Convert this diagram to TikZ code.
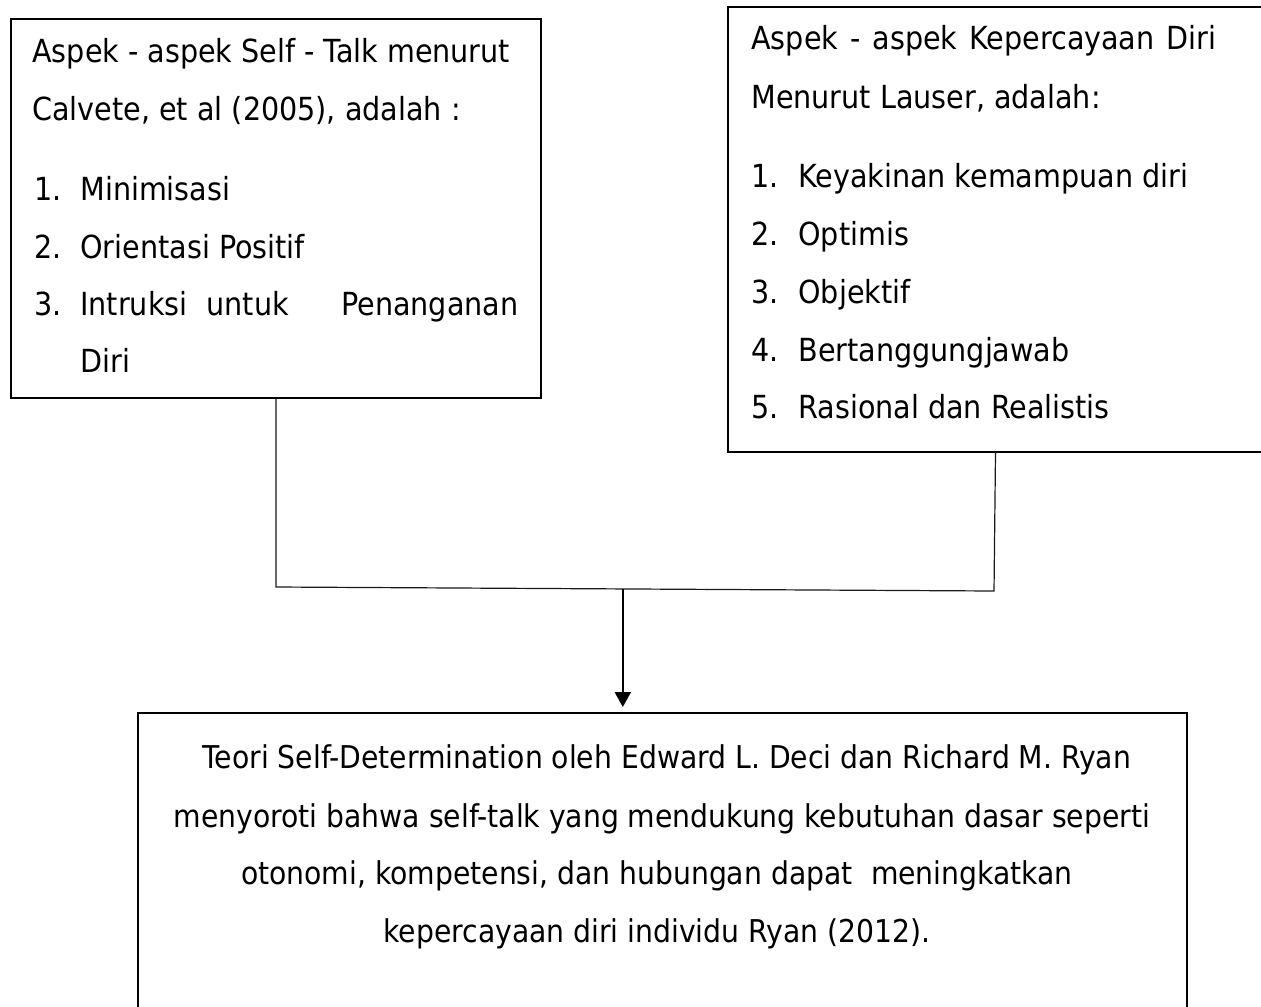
\documentclass[tikz,border=0pt]{standalone}
\usepackage{fontspec}
\setmainfont{DejaVu Sans Condensed}
\usetikzlibrary{arrows.meta,calc}
\begin{document}
\begin{tikzpicture}[x=0.5pt,y=-0.5pt,
  box/.style={draw=black,line width=1.3pt,inner sep=0pt,outer sep=0pt,anchor=north west},
  txt/.style={inner sep=0pt,anchor=base west,font=\fontsize{15.9}{19}\selectfont},
  ctxt/.style={inner sep=0pt,anchor=base,font=\fontsize{15.7}{19}\selectfont},
  conn/.style={draw=black!90,line width=0.6pt},
  arr/.style={draw=black,line width=1pt,-{Triangle[width=8pt,length=7.5pt]}}]
\useasboundingbox (0,0) rectangle (1261,1006);
\clip (0,0) rectangle (1261,1006);
% boxes
\node[box,minimum width=265pt,minimum height=189.5pt] (L) at (11,19) {};
\node[box,minimum width=267.5pt,minimum height=222.5pt] (R) at (728,7) {};
\node[box,minimum width=524.5pt,minimum height=160pt] (B) at (138,713) {};
% left text
\node[txt] (l1) at (32,63) {Aspek - aspek Self - Talk menurut};
\node[txt] (l2) at (32,120) {Calvete, et al (2005), adalah :};
\node[txt] (l3) at (34,200) {\makebox[23pt][l]{1.}Minimisasi};
\node[txt] (l4) at (34,258) {\makebox[23pt][l]{2.}Orientasi Positif};
\node[txt] (l5) at (34,315) {\makebox[23pt][l]{3.}\makebox[219pt][l]{Intruksi\hspace{0.6em}untuk\hfill Penanganan}};
\node[txt] (l6) at (80,372) {Diri};
% right text
\node[txt] (r1) at (751,50) {\makebox[232.5pt][s]{Aspek - aspek Kepercayaan Diri}};
\node[txt] (r2) at (751,108) {Menurut Lauser, adalah:};
\node[txt] (r3) at (751,187) {\makebox[23.5pt][l]{1.}Keyakinan kemampuan diri};
\node[txt] (r4) at (751,245) {\makebox[23.5pt][l]{2.}Optimis};
\node[txt] (r5) at (751,303) {\makebox[23.5pt][l]{3.}Objektif};
\node[txt] (r6) at (751,361) {\makebox[23.5pt][l]{4.}Bertanggungjawab};
\node[txt] (r7) at (751,418) {\makebox[23.5pt][l]{5.}Rasional dan Realistis};
% bottom text
\node[ctxt] (b1) at (667,768) {Teori Self-Determination oleh Edward L. Deci dan Richard M. Ryan};
\node[ctxt] (b2) at (662,827) {menyoroti bahwa self-talk yang mendukung kebutuhan dasar seperti};
\node[ctxt] (b3) at (657,884) {otonomi, kompetensi, dan hubungan dapat\hspace{0.3em} meningkatkan};
\node[ctxt] (b4) at (657,942) {kepercayaan diri individu Ryan (2012).};
% connectors
\coordinate (jl) at (276,587);
\coordinate (jr) at (994,591);
\draw[conn] (L.south) -- (jl) -- (jr) -- (R.south);
\coordinate (ja) at ($(jl)!0.483!(jr)$);
\coordinate (at) at ($(B.north -| ja)+(0,-6)$);
\draw[arr] (ja) -- (at);
\end{tikzpicture}
\end{document}
